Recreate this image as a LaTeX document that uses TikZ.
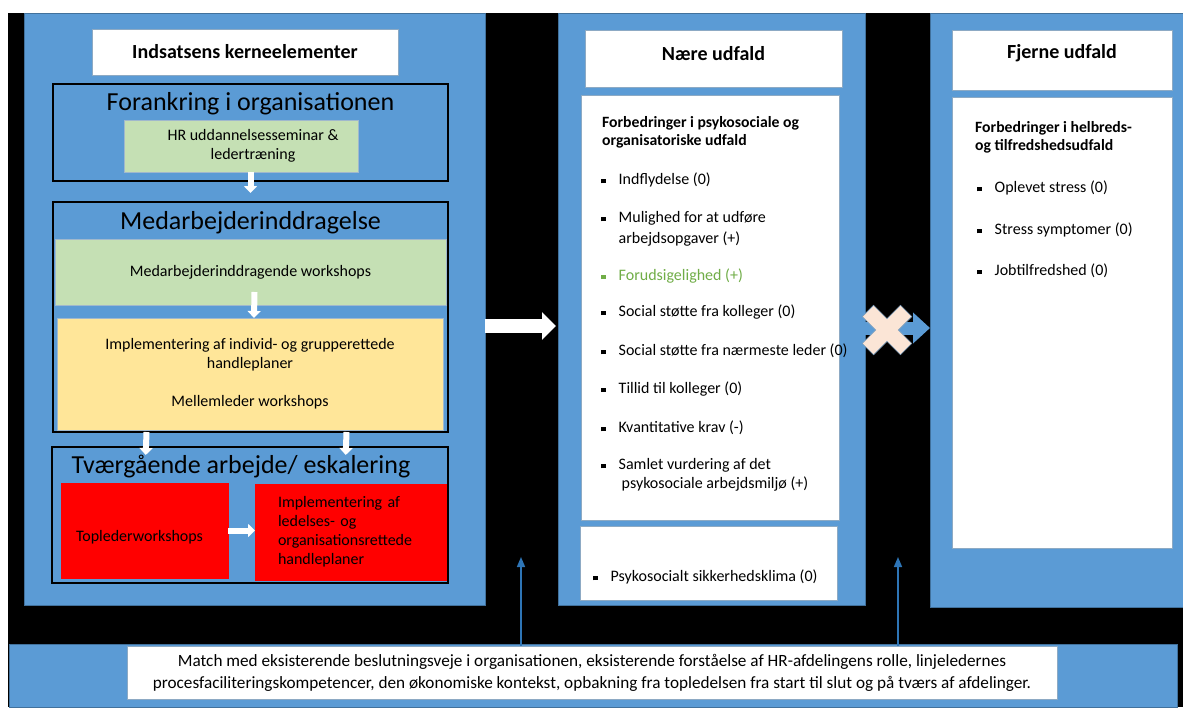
\documentclass[tikz,border=0pt]{standalone}
\usepackage{fontspec}
\setmainfont{Carlito}
\usepackage{tikz}
\usetikzlibrary{arrows.meta, positioning}
\definecolor{panelblue}{HTML}{5B9BD5}
\definecolor{panelline}{HTML}{41719C}
\definecolor{softgreen}{HTML}{C5E0B4}
\definecolor{softyellow}{HTML}{FFE699}
\definecolor{peach}{HTML}{FBE5D6}
\definecolor{okgreen}{HTML}{70AD47}
\definecolor{linkblue}{HTML}{2E75B6}
\newcommand{\sizept}[2]{\fontsize{#1}{#2}\selectfont}
\newcommand{\blt}{\rule[1.3pt]{4.5pt}{4.5pt}\hspace{13pt}}
\newcommand{\bltgap}{\hspace*{17.5pt}}
\tikzset{
    panel/.style={
        rectangle, draw=panelline, fill=panelblue, line width=0.8pt,
        inner sep=0pt, outer sep=0pt,
    },
    head/.style={
        rectangle, draw=panelline!60, fill=white, line width=0.8pt,
        inner sep=0pt, outer sep=0pt, align=center,
        font=\sizept{20}{24}\bfseries,
    },
    card/.style={
        rectangle, draw=panelline!60, fill=white, line width=0.8pt,
        inner sep=0pt, outer sep=0pt,
    },
    stage/.style={
        rectangle, draw=black, fill=panelblue, line width=2.5pt,
        inner sep=0pt, outer sep=0pt,
    },
    stagename/.style={inner sep=0pt, font=\sizept{26}{31}},
    greenbox/.style={
        rectangle, draw=panelline!50, fill=softgreen, line width=0.6pt,
        inner sep=0pt, outer sep=0pt, align=center, font=\sizept{16}{19}},
    yellowbox/.style={
        rectangle, draw=panelline!50, fill=softyellow, line width=0.6pt,
        inner sep=0pt, outer sep=0pt, align=center, font=\sizept{16}{19}},
    redbox/.style={
        rectangle, draw=red, fill=red, line width=0.6pt,
        inner sep=0pt, outer sep=0pt, align=center, font=\sizept{16}{19}},
    body/.style={inner sep=0pt, align=left, font=\sizept{16}{19}},
    bodyhead/.style={inner sep=0pt, align=left, font=\sizept{15.7}{18.5}\bfseries},
    wflow/.style={-{Triangle[width=13pt,length=7pt]}, line width=6pt, draw=white},
    bigflow/.style={-{Triangle[width=27pt,length=14pt]}, line width=14pt, draw=white},
    blueflow/.style={-{Triangle[width=30pt,length=17pt]}, line width=13pt, draw=panelblue},
    upflow/.style={-{Triangle[width=8pt,length=10pt]}, line width=1.6pt, draw=linkblue},
}

\begin{document}
\begin{tikzpicture}[x=1pt, y=-1pt]

    \useasboundingbox (0,0) rectangle (1183,707);
    \fill[white] (0,0) rectangle (1183,707);
    \fill[black] (8,13) rectangle (1183,707);

    % the three columns and the context band
    \node[panel, anchor=north west, minimum width=461pt, minimum height=592pt] (kern) at (24,13) {};
    \node[panel, anchor=north west, minimum width=307pt, minimum height=592pt] (naer) at (558,13) {};
    \node[panel, anchor=north west, minimum width=253pt, minimum height=594pt] (fjern) at (930,13) {};
    \node[panel, anchor=north west, minimum width=1168pt, minimum height=63pt] (ctx) at (9,644) {};

    % core elements
    \node[head, below right=16pt and 68pt of kern.north west, minimum width=306pt, minimum height=46pt] (kernhead) {Indsatsens kerneelementer};

    \node[stage, below right=71pt and 29pt of kern.north west, minimum width=395pt, minimum height=97pt] (forank) {};
    \node[stagename, below=26pt of forank.north, anchor=base] (forankname) {Forankring i organisationen};
    \node[greenbox, below right=36pt and 71pt of forank.north west, minimum width=234pt, minimum height=52pt] (hrsem) {\hspace*{24pt}HR uddannelsesseminar \&\\\hspace*{24pt}ledertræning};

    \node[stage, below right=21pt and 0pt of forank.south west, minimum width=395pt, minimum height=230pt] (medarb) {};
    \node[stagename, below=27pt of medarb.north, anchor=base] (medarbname) {Medarbejderinddragelse};
    \node[greenbox, below right=37pt and 2pt of medarb.north west, minimum width=391pt, minimum height=66pt] (medws) {Medarbejderinddragende workshops};
    \node[yellowbox, below right=116pt and 4pt of medarb.north west, minimum width=386pt, minimum height=112pt] (handle) {Implementering af individ- og grupperettede\\handleplaner\\[19pt]Mellemleder workshops};

    \node[stage, below right=15pt and -1pt of medarb.south west, minimum width=396pt, minimum height=136pt] (tvaer) {};
    \node[stagename, below=26pt of tvaer.north, anchor=base, xshift=-9pt] (tvaername) {Tværgående arbejde/ eskalering};
    \node[redbox, below right=36pt and 9pt of tvaer.north west, minimum width=167pt, minimum height=95pt, text height=22pt, text depth=0pt] (topws) {Toplederworkshops\hspace*{10pt}};
    \node[redbox, below right=37pt and 203pt of tvaer.north west, minimum width=191pt, minimum height=96pt, text width=145pt, align=left] (ledplan) {Implementering af\\ledelses- og\\organisationsrettede\\handleplaner};

    % near outcomes
    \node[head, below right=17pt and 27pt of naer.north west, minimum width=257pt, minimum height=57pt, text height=12pt, text depth=8pt] (naerhead) {Nære udfald};
    \node[card, below right=82pt and 23pt of naer.north west, minimum width=258pt, minimum height=425pt] (naerlist) {};
    \node[card, below right=6pt and -1pt of naerlist.south west, minimum width=257pt, minimum height=74pt] (klima) {};

    \node[bodyhead, below right=37.5pt and 21pt of naerlist.north west, anchor=west] (psyhead) {Forbedringer i psykosociale og\\organisatoriske udfald};
    \node[body, below right=85pt and 20pt of naerlist.north west, anchor=west] (infl) {\blt Indflydelse (0)};
    \node[body, below right=134pt and 20pt of naerlist.north west, anchor=west] (mulig) {\blt Mulighed for at udføre\\[2pt]\bltgap arbejdsopgaver (+)};
    \node[body, below right=181pt and 20pt of naerlist.north west, anchor=west, text=okgreen] (forud) {\blt Forudsigelighed (+)};
    \node[body, below right=217pt and 20pt of naerlist.north west, anchor=west] (kolstoet) {\blt Social støtte fra kolleger (0)};
    \node[body, below right=256pt and 20pt of naerlist.north west, anchor=west] (ledstoet) {\blt Social støtte fra nærmeste leder (0)};
    \node[body, below right=294pt and 20pt of naerlist.north west, anchor=west] (tillid) {\blt Tillid til kolleger (0)};
    \node[body, below right=333pt and 20pt of naerlist.north west, anchor=west] (kvant) {\blt Kvantitative krav (-)};
    \node[body, below right=380pt and 20pt of naerlist.north west, anchor=west] (samlet) {\blt Samlet vurdering af det\\\bltgap\hspace*{3pt}psykosociale arbejdsmiljø (+)};
    \node[body, below right=51pt and 13pt of klima.north west, anchor=west] (klimaitem) {\blt Psykosocialt sikkerhedsklima (0)};

    % far outcomes
    \node[head, below right=17pt and 22pt of fjern.north west, minimum width=220pt, minimum height=60pt, text height=10pt, text depth=13pt] (fjernhead) {Fjerne udfald};
    \node[card, below right=84pt and 22pt of fjern.north west, minimum width=220pt, minimum height=451pt] (fjernlist) {};

    \node[bodyhead, below right=40.5pt and 23pt of fjernlist.north west, anchor=west] (helhead) {Forbedringer i helbreds-\\og tilfredshedsudfald};
    \node[body, below right=91pt and 25pt of fjernlist.north west, anchor=west] (stress) {\blt Oplevet stress (0)};
    \node[body, below right=133pt and 25pt of fjernlist.north west, anchor=west] (sympt) {\blt Stress symptomer (0)};
    \node[body, below right=174pt and 25pt of fjernlist.north west, anchor=west] (jobtil) {\blt Jobtilfredshed (0)};

    % context
    \node[card, below right=2pt and 118pt of ctx.north west, minimum width=930pt, minimum height=53pt, align=center, font=\sizept{17.2}{22}] (match) {Match med eksisterende beslutningsveje i organisationen, eksisterende forståelse af HR-afdelingens rolle, linjeledernes\\procesfaciliteringskompetencer, den økonomiske kontekst, opbakning fra topledelsen fra start til slut og på tværs af afdelinger.};

    \coordinate (tipa) at (521,557);
    \coordinate (tipb) at (898,557);

    % arrows
    \draw[wflow, shorten >=9pt] (hrsem.south -| forank.south) -- (medarb.north);
    \draw[wflow] ([xshift=4pt, yshift=13pt]medws.south) -- ([xshift=4pt]handle.north);
    \draw[wflow, shorten >=-8pt] ([xshift=-104pt]medarb.south) -- ([xshift=-104pt]tvaer.north);
    \draw[wflow, shorten >=-8pt] ([xshift=96pt]medarb.south) -- ([xshift=96pt]tvaer.north);
    \draw[wflow] (topws.east) -- (topws.east -| ledplan.west);

    \draw[bigflow, shorten >=2pt] ([yshift=-17pt]kern.east) -- ([yshift=-17pt]naer.west);
    \draw[blueflow] ([yshift=-19pt]naer.east) -- ([yshift=-19pt]naer.east -| fjern.west);
    \filldraw[fill=peach, draw=panelline!70, line width=0.6pt, shift={(887,330)}, rotate=45]
        (8,8) -- (27,8) -- (27,-8) -- (8,-8) -- (8,-27) -- (-8,-27) -- (-8,-8)
        -- (-27,-8) -- (-27,8) -- (-8,8) -- (-8,27) -- (8,27) -- cycle;

    \draw[upflow] (match.north -| tipa) -- (tipa);
    \draw[upflow] (match.north -| tipb) -- (tipb);

\end{tikzpicture}
\end{document}
